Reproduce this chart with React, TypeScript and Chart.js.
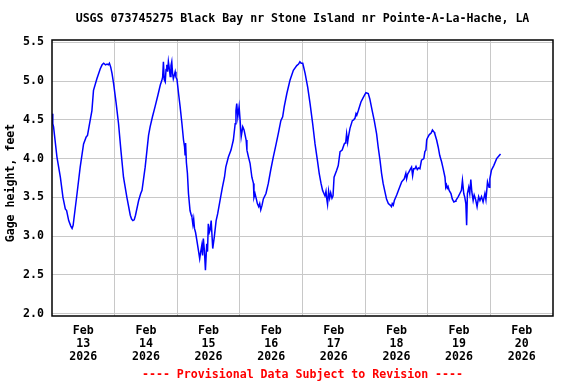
import React, { useEffect, useRef } from "react";
import { Chart, registerables } from "chart.js";

Chart.register(...registerables);

const titleText = "USGS 073745275 Black Bay nr Stone Island nr Pointe-A-La-Hache, LA";
const yAxisTitle = "Gage height, feet";
const footerText = "---- Provisional Data Subject to Revision ----";
const monthLabel = "Feb";
const yearLabel = "2026";
const dayLabels = ["13", "14", "15", "16", "17", "18", "19", "20"];
const yTicks = [2.0, 2.5, 3.0, 3.5, 4.0, 4.5, 5.0, 5.5];

// hours since Feb 13 00:00
const hours = [
  0.0, 0.3, 0.6, 1.9, 3.2, 4.2, 5.1, 5.6, 6.4, 7.2, 7.7, 8.1, 8.5, 9.6, 10.8, 12.1, 13.1, 13.6, 14.4, 15.3,
  15.9, 17.2, 18.5, 19.2, 19.8, 20.5, 21.1, 21.6, 22.0, 22.5, 23.0, 23.6, 24.6, 25.5, 26.4, 27.4, 28.7, 30.0,
  30.5, 31.0, 31.5, 32.0, 33.2, 34.0, 34.5, 35.7, 36.4, 37.0, 37.6, 38.5, 39.5, 40.6, 41.5, 42.1, 42.4, 42.7,
  43.0, 43.4, 43.7, 44.0, 44.3, 44.6, 45.0, 45.3, 45.6, 45.9, 46.2, 46.5, 46.9, 47.2, 47.5, 47.9, 48.5, 49.1,
  49.8, 50.4, 50.8, 51.0, 51.2, 51.5, 51.9, 52.3, 52.9, 53.3, 53.6, 54.0, 54.3, 54.6, 55.0, 55.5, 56.1, 56.6,
  57.0, 57.4, 57.7, 58.0, 58.4, 58.8, 59.3, 59.6, 59.9, 60.3, 60.6, 61.0, 61.6, 62.2, 62.9, 63.5, 64.4, 65.3,
  66.1, 66.6, 67.6, 68.6, 69.5, 70.2, 70.5, 70.8, 71.2, 71.7, 72.1, 72.5, 73.1, 73.6, 74.4, 74.7, 75.3, 75.9,
  76.6, 77.2, 77.4, 77.8, 78.3, 78.7, 79.2, 79.6, 80.0, 80.5, 81.0, 82.0, 82.9, 83.8, 84.8, 85.9, 86.7, 87.7,
  88.4, 89.0, 90.0, 91.2, 92.5, 93.8, 94.5, 95.0, 95.5, 96.1, 97.0, 98.0, 98.9, 99.9, 100.8, 101.7, 102.4,
  103.1, 103.7, 104.2, 104.6, 105.0, 105.3, 105.6, 106.0, 106.4, 106.8, 107.3, 107.7, 108.1, 108.4, 109.1,
  109.7, 110.4, 111.2, 112.0, 112.3, 112.6, 112.9, 113.3, 113.6, 114.2, 115.1, 115.6, 116.1, 116.5, 116.8,
  117.4, 118.4, 119.3, 120.3, 121.2, 121.8, 122.7, 123.5, 124.4, 125.0, 125.7, 126.3, 126.9, 127.6, 128.2,
  128.9, 129.6, 130.1, 130.4, 130.8, 131.2, 132.1, 133.0, 134.0, 135.0, 135.6, 135.9, 136.3, 136.8, 137.3,
  137.8, 138.2, 138.6, 139.1, 139.5, 140.0, 140.5, 141.0, 141.6, 142.5, 142.9, 143.3, 143.6, 143.8, 144.6,
  145.3, 145.8, 146.5, 146.7, 147.4, 148.0, 148.6, 149.3, 149.9, 150.6, 150.9, 151.2, 151.5, 151.8, 152.2,
  152.9, 153.4, 154.0, 154.5, 154.8, 155.7, 156.3, 156.9, 157.3, 157.8, 158.2, 158.6, 158.9, 159.2, 159.7,
  160.1, 160.5, 160.9, 161.4, 161.8, 162.3, 162.9, 163.5, 164.0, 164.6, 165.2, 165.9, 166.3, 166.9, 167.5,
  167.8, 168.4, 169.3, 170.4, 171.4, 171.9,
];

const gageHeight = [
  4.58, 4.45, 4.41, 4.02, 3.76, 3.5, 3.35, 3.33, 3.2, 3.13, 3.1, 3.14, 3.25, 3.55, 3.89, 4.19, 4.28, 4.3, 4.45, 4.62,
  4.88, 5.03, 5.16, 5.21, 5.23, 5.21, 5.22, 5.21, 5.23, 5.18, 5.1, 4.97, 4.71, 4.45, 4.11, 3.76, 3.5, 3.27,
  3.22, 3.2, 3.21, 3.27, 3.46, 3.55, 3.59, 3.89, 4.11, 4.3, 4.41, 4.54, 4.67, 4.82, 4.95, 5.01, 5.05, 5.25,
  5.02, 4.99, 5.15, 5.21, 5.12, 5.25, 5.15, 5.06, 5.2, 5.25, 5.1, 5.03, 5.08, 5.12, 5.05, 5.02, 4.84, 4.67,
  4.45, 4.24, 4.15, 4.05, 4.2, 3.95, 3.81, 3.55, 3.33, 3.28, 3.25, 3.15, 3.22, 3.1, 3.05, 2.95, 2.82, 2.71,
  2.8, 2.88, 2.75, 2.97, 2.82, 2.56, 2.9, 2.8, 3.16, 3.05, 3.08, 3.2, 2.84, 2.99, 3.2, 3.29, 3.46, 3.63,
  3.76, 3.89, 4.02, 4.11, 4.24, 4.45, 4.62, 4.71, 4.54, 4.67, 4.49, 4.28, 4.41, 4.37, 4.24, 4.11, 4.02, 3.94,
  3.76, 3.68, 3.5, 3.55, 3.48, 3.42, 3.38, 3.42, 3.34, 3.4, 3.48, 3.55, 3.68, 3.85, 4.02, 4.19, 4.32, 4.49,
  4.54, 4.67, 4.84, 5.01, 5.14, 5.2, 5.22, 5.25, 5.23, 5.23, 5.1, 4.92, 4.71, 4.45, 4.19, 3.98, 3.81,
  3.68, 3.59, 3.55, 3.52, 3.58, 3.48, 3.41, 3.58, 3.49, 3.56, 3.49, 3.52, 3.76, 3.76, 3.85,
  3.91, 4.09, 4.11, 4.19, 4.2, 4.22, 4.32, 4.21, 4.28, 4.39, 4.49, 4.5, 4.52, 4.58, 4.56,
  4.62, 4.73, 4.79, 4.85, 4.84, 4.77, 4.62, 4.49, 4.32, 4.15, 3.98, 3.81, 3.68, 3.57, 3.48,
  3.42, 3.4, 3.38, 3.42, 3.4, 3.46, 3.53, 3.61, 3.7, 3.74, 3.81, 3.74, 3.8, 3.83, 3.86,
  3.89, 3.78, 3.87, 3.87, 3.9, 3.86, 3.88, 3.87, 3.98, 4.0, 4.09, 4.11, 4.24, 4.26, 4.31,
  4.33, 4.37, 4.34, 4.32, 4.24, 4.15, 4.04, 3.96, 3.87, 3.76, 3.63, 3.66, 3.62, 3.64, 3.59,
  3.55, 3.48, 3.44, 3.45, 3.46, 3.51, 3.55, 3.59, 3.72, 3.55, 3.5, 3.42, 3.14, 3.55, 3.63,
  3.55, 3.73, 3.57, 3.46, 3.53, 3.48, 3.38, 3.51, 3.46, 3.51, 3.44, 3.55, 3.47, 3.7, 3.63,
  3.74, 3.85, 3.91, 4.0, 4.04, 4.06,
];

const FONT = '"DejaVu Sans Mono", monospace';

const textPlugin = {
  id: "usgsText",
  afterDraw(chart: any) {
    const { ctx, chartArea } = chart;
    const cx = (chartArea.left + chartArea.right) / 2;
    ctx.save();
    // plot border
    ctx.strokeStyle = "#000";
    ctx.lineWidth = 1.5;
    ctx.strokeRect(chartArea.left, chartArea.top, chartArea.right - chartArea.left, chartArea.bottom - chartArea.top);
    ctx.font = `bold 11.6px ${FONT}`;
    ctx.textAlign = "center";
    ctx.textBaseline = "middle";
    ctx.fillStyle = "#000";
    ctx.fillText(titleText, cx, 19);
    ctx.fillStyle = "#ff0000";
    ctx.fillText(footerText, cx, 375);
    ctx.fillStyle = "#000";
    ctx.translate(11, 183);
    ctx.rotate(-Math.PI / 2);
    ctx.fillText(yAxisTitle, 0, 0);
    ctx.restore();
  },
};

export default function App() {
  const ref = useRef<HTMLCanvasElement>(null);
  useEffect(() => {
    if (!ref.current) return;
    const points = hours.map((h, i) => ({ x: h, y: gageHeight[i] }));
    const chart = new Chart(ref.current, {
      type: "line",
      data: {
        datasets: [
          {
            data: points,
            borderColor: "#0000ff",
            borderWidth: 1.5,
            pointRadius: 0,
            tension: 0,
            fill: false,
          },
        ],
      },
      options: {
        animation: false,
        responsive: false,
        maintainAspectRatio: false,
        layout: { padding: { top: 40, right: 23, left: 0, bottom: 0 } },
        plugins: { legend: { display: false }, tooltip: { enabled: false }, title: { display: false } },
        scales: {
          x: {
            type: "linear",
            position: "bottom",
            min: 0,
            max: 192,
            grid: { display: false, drawTicks: false },
            border: { display: false },
            afterBuildTicks: (scale: any) => {
              scale.ticks = dayLabels.map((_, i) => ({ value: 12 + 24 * i }));
            },
            afterFit: (scale: any) => {
              scale.height = 68;
            },
            ticks: {
              autoSkip: false,
              maxRotation: 0,
              padding: 8,
              color: "#000",
              font: { family: FONT, size: 11.6, weight: "bold", lineHeight: 1.13 },
              callback: (value: any) => {
                const i = Math.round((Number(value) - 12) / 24);
                return [monthLabel, dayLabels[i], yearLabel];
              },
            },
          },
          xGrid: {
            type: "linear",
            position: "top",
            min: 0,
            max: 192,
            grid: { color: "#c8c8c8", lineWidth: 1, drawTicks: false },
            border: { display: false },
            afterBuildTicks: (scale: any) => {
              const t = [];
              for (let v = 24; v < 192; v += 24) t.push({ value: v });
              scale.ticks = t;
            },
            afterFit: (scale: any) => {
              scale.height = 0;
            },
            ticks: { display: false },
          },
          y: {
            type: "linear",
            min: 1.97,
            max: 5.53,
            grid: { color: "#c8c8c8", lineWidth: 1, drawTicks: false },
            border: { display: false },
            afterBuildTicks: (scale: any) => {
              scale.ticks = yTicks.map((v) => ({ value: v }));
            },
            afterFit: (scale: any) => {
              scale.width = 52;
            },
            ticks: {
              padding: 8,
              color: "#000",
              font: { family: FONT, size: 11.6, weight: "bold" },
              callback: (value: any) => Number(value).toFixed(1),
            },
          },
        },
      },
      plugins: [textPlugin],
    });
    return () => chart.destroy();
  }, []);
  return (
    <div style={{ position: "fixed", left: 0, top: 0, width: 576, height: 384, background: "#fff" }}>
      <canvas ref={ref} width={576} height={384} style={{ width: 576, height: 384 }} />
    </div>
  );
}
